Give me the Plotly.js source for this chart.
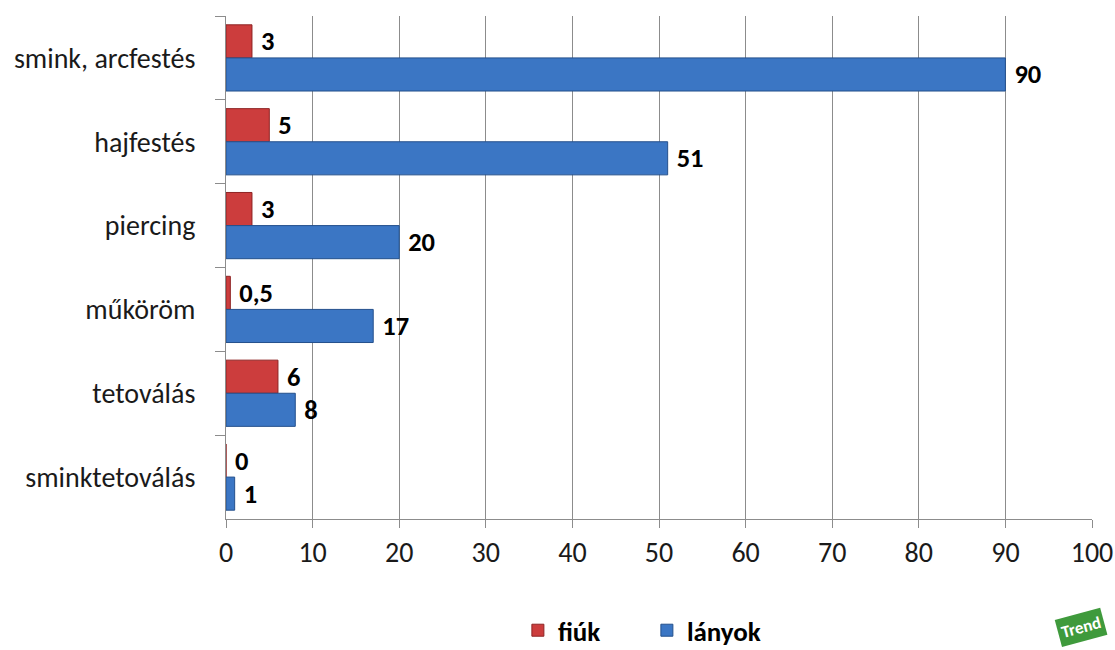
<!DOCTYPE html>
<html>
<head>
<meta charset="utf-8">
<script src="https://cdn.plot.ly/plotly-3.0.1.min.js"></script>
<style>
  html, body { margin: 0; padding: 0; background: #ffffff; }
  #chart { width: 1115px; height: 650px; }
</style>
</head>
<body>
<div id="chart"></div>
<script>
// Categories, top to bottom
const categories = ['smink, arcfestés', 'hajfestés', 'piercing', 'műköröm', 'tetoválás', 'sminktetoválás'];
// Share per group
const fiuk = [3, 5, 3, 0.5, 6, 0];
const lanyok = [90, 51, 20, 17, 8, 1];
const seriesNames = ['fiúk', 'lányok'];
const xTicks = [0, 10, 20, 30, 40, 50, 60, 70, 80, 90, 100];

const FONT = 'Carlito, Lato, "Open Sans", "Liberation Sans", sans-serif';

function barTrace(name, values, fill, edge) {
  return {
    type: 'bar',
    orientation: 'h',
    name: name,
    y: categories,
    x: values,
    marker: { color: fill, line: { color: edge, width: 1 } },
    texttemplate: '\u00a0%{x}',
    textposition: 'outside',
    cliponaxis: false,
    textfont: { family: FONT, size: 28, color: '#000000', weight: 'bold' },
    hoverinfo: 'none'
  };
}

const data = [
  barTrace(seriesNames[0], fiuk, '#CC3D3D', '#8E2424'),
  barTrace(seriesNames[1], lanyok, '#3B76C4', '#24508C')
];

const layout = {
  width: 1115,
  height: 650,
  margin: { l: 226, r: 23, t: 16, b: 131, autoexpand: false },
  paper_bgcolor: '#ffffff',
  plot_bgcolor: '#ffffff',
  separators: ', ',
  barmode: 'group',
  bargap: 0.21,
  bargroupgap: 0,
  showlegend: true,
  legend: {
    orientation: 'h',
    x: 0.486, xref: 'paper', xanchor: 'center',
    y: -0.222, yanchor: 'middle',
    font: { family: FONT, size: 27, color: '#000000', weight: 'bold' },
    itemwidth: 30,
    entrywidth: 84,
    tracegroupgap: 0,
    traceorder: 'normal'
  },
  xaxis: {
    range: [0, 100],
    tickvals: xTicks,
    ticktext: xTicks.map(String),
    showgrid: true,
    gridcolor: '#8C8C8C',
    gridwidth: 1,
    zeroline: false,
    showline: true,
    linecolor: '#8C8C8C',
    linewidth: 1,
    ticks: 'outside',
    ticklen: 8,
    tickcolor: '#8C8C8C',
    tickfont: { family: FONT, size: 28, color: '#1a1a1a' },
    automargin: false,
    fixedrange: true
  },
  yaxis: {
    type: 'category',
    autorange: 'reversed',
    tickson: 'boundaries',
    ticks: 'outside',
    ticklen: 10,
    tickcolor: '#8C8C8C',
    showgrid: false,
    showline: true,
    linecolor: '#8C8C8C',
    linewidth: 1,
    ticklabelstandoff: 24,
    tickfont: { family: FONT, size: 28, color: '#1a1a1a' },
    automargin: false,
    fixedrange: true
  },
  annotations: [
    {
      xref: 'paper', yref: 'paper',
      x: 1.018, y: -0.215,
      xanchor: 'right', yanchor: 'middle',
      text: '<b>Trend</b>',
      showarrow: false,
      textangle: -15,
      font: { family: FONT, size: 17, color: '#ffffff' },
      bgcolor: '#3F9A3C',
      borderpad: 3
    }
  ]
};

Plotly.newPlot('chart', data, layout, { displayModeBar: false, staticPlot: true });
</script>
</body>
</html>
